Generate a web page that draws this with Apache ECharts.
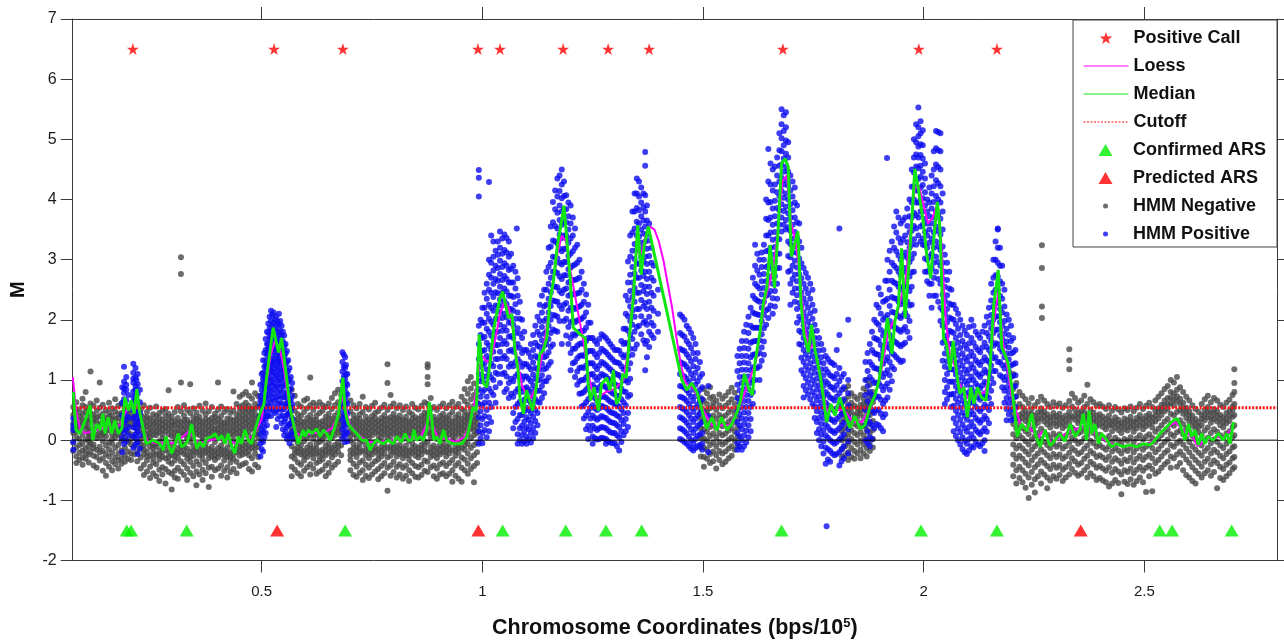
<!DOCTYPE html>
<html><head><meta charset="utf-8">
<script src="https://cdn.jsdelivr.net/npm/echarts@6/dist/echarts.min.js"></script>
<style>html,body{margin:0;padding:0;background:#fff}#c{width:1284px;height:644px}</style>
</head><body><div id="c"></div>
<script>
// ---------- axis / reference values ----------
const xMin = 0.0717, xMax = 2.8007;
const xTicks = [0.5, 1, 1.5, 2, 2.5];
const yMin = -2, yMax = 7, yStep = 1;
const cutoff = 0.54;

// ---------- markers ----------
const positiveCallX = [0.208,0.528,0.684,0.990,1.040,1.183,1.285,1.378,1.681,1.989,2.166];
const positiveCallY = 6.5;
const confirmedArsX = [0.194,0.204,0.330,0.689,1.046,1.189,1.280,1.361,1.678,1.994,2.166,2.535,2.563,2.698];
const predictedArsX = [0.535,0.991,2.356];
const arsY = -1.5;

// ---------- median line [x, M] ----------
const medianLine = [[.073,.80],[.079,.17],[.088,.11],[.100,.33],[.111,.58],[.117,0],[.126,.27],[.134,.17],[.140,.44],[.145,.11],[.152,.38],[.160,.11],[.167,.33],[.175,.11],[.183,.19],[.190,.71],[.198,.49],[.204,.66],[.211,.44],[.217,.85],[.223,.49],[.232,.17],[.238,-.06],[.254,0],[.269,-.06],[.277,-.17],[.283,.06],[.288,-.06],[.296,-.22],[.303,-.08],[.311,.11],[.318,-.11],[.326,-.08],[.333,0],[.341,.27],[.345,.11],[.353,-.14],[.360,-.03],[.368,-.11],[.375,.03],[.387,.06],[.394,.11],[.402,0],[.409,.08],[.417,-.06],[.424,.11],[.432,-.11],[.439,-.22],[.447,.06],[.454,-.06],[.462,.17],[.470,0],[.477,-.06],[.485,.17],[.496,.44],[.505,.60],[.511,1.04],[.519,1.49],[.526,1.87],[.538,1.46],[.545,1.70],[.557,1.0],[.564,.55],[.572,.27],[.583,-.06],[.594,.17],[.598,.06],[.606,.17],[.613,.11],[.625,.19],[.632,.06],[.640,.17],[.647,.11],[.655,0],[.666,.22],[.674,.44],[.684,1.04],[.689,.49],[.696,.27],[.707,.17],[.715,.11],[.727,0],[.738,0],[.745,-.17],[.753,-.06],[.760,0],[.775,-.06],[.787,0],[.798,-.06],[.806,.06],[.817,-.03],[.825,.11],[.832,0],[.840,0],[.845,.17],[.851,0],[.859,.06],[.866,0],[.874,.17],[.880,.63],[.885,.38],[.890,0],[.897,.06],[.904,-.06],[.912,.17],[.919,0],[.931,-.06],[.942,-.06],[.953,-.06],[.965,.06],[.972,.27],[.979,.55],[.986,.49],[.993,1.76],[1.002,.95],[1.010,.88],[1.017,1.26],[1.025,1.81],[1.032,2.09],[1.040,2.36],[1.046,2.47],[1.054,2.20],[1.059,2.03],[1.067,2.09],[1.074,1.49],[1.081,1.16],[1.085,.71],[1.093,.44],[1.100,.83],[1.114,.49],[1.123,.93],[1.130,1.43],[1.138,1.49],[1.146,1.70],[1.153,2.31],[1.161,2.64],[1.170,3.24],[1.178,3.57],[1.185,3.90],[1.193,3.19],[1.199,2.69],[1.206,1.87],[1.221,1.76],[1.233,1.70],[1.240,.93],[1.245,.66],[1.253,.88],[1.263,.49],[1.270,.93],[1.282,1.04],[1.289,.83],[1.297,1.16],[1.304,.60],[1.312,.71],[1.318,1.10],[1.326,1.04],[1.333,1.70],[1.342,2.36],[1.352,3.57],[1.360,2.75],[1.367,3.24],[1.376,3.55],[1.452,1.0],[1.463,.83],[1.474,.95],[1.486,.80],[1.497,.52],[1.508,.19],[1.520,.38],[1.531,.16],[1.542,.38],[1.554,.17],[1.565,.27],[1.576,.44],[1.585,.65],[1.594,1.10],[1.604,.85],[1.612,.75],[1.618,1.3],[1.629,1.78],[1.637,2.28],[1.645,2.55],[1.652,3.24],[1.662,2.53],[1.671,3.6],[1.678,4.6],[1.686,4.68],[1.693,4.55],[1.700,3.05],[1.708,3.27],[1.715,3.47],[1.722,2.3],[1.729,1.75],[1.739,1.46],[1.746,1.92],[1.754,1.49],[1.765,1.10],[1.773,.71],[1.780,.30],[1.790,.60],[1.799,.41],[1.810,.71],[1.822,.44],[1.833,.20],[1.844,.40],[1.856,.19],[1.867,.25],[1.878,.55],[1.890,.75],[1.899,1.0],[1.909,1.54],[1.918,2.03],[1.928,1.43],[1.935,1.98],[1.943,2.25],[1.950,3.19],[1.958,2.03],[1.965,2.75],[1.973,3.63],[1.980,4.51],[1.988,4.18],[1.999,3.63],[2.007,3.08],[2.016,2.69],[2.023,3.35],[2.031,3.96],[2.037,3.52],[2.045,1.70],[2.052,1.59],[2.060,1.16],[2.067,1.65],[2.075,1.10],[2.082,.77],[2.091,.88],[2.099,.38],[2.107,.88],[2.114,.60],[2.122,.88],[2.131,.71],[2.141,.66],[2.150,1.16],[2.159,2.25],[2.169,2.83],[2.177,1.54],[2.184,1.43],[2.192,1.26],[2.200,.88],[2.205,.55],[2.212,.06],[2.222,.27],[2.234,.15],[2.245,.44],[2.253,.10],[2.264,-.11],[2.275,.17],[2.286,-.09],[2.298,0],[2.309,.10],[2.320,-.02],[2.332,.27],[2.343,.06],[2.354,.17],[2.362,.44],[2.369,0],[2.375,.49],[2.381,.11],[2.388,.27],[2.396,-.06],[2.403,.11],[2.415,0],[2.426,-.11],[2.437,-.06],[2.452,-.11],[2.468,-.08],[2.483,-.11],[2.498,-.06],[2.513,-.08],[2.524,0],[2.536,.11],[2.551,.22],[2.566,.33],[2.575,.36],[2.583,.22],[2.592,0],[2.600,.27],[2.607,.06],[2.615,.17],[2.622,-.08],[2.630,.11],[2.637,-.06],[2.645,.06],[2.656,0],[2.668,.11],[2.679,0],[2.687,.11],[2.694,-.06],[2.702,.30]];

// ---------- loess line [x, M] ----------
const loessLine = [[.072,1.05],[.08,.45],[.09,.15],[.10,.12],[.12,.15],[.14,.2],[.16,.22],[.18,.25],[.19,.45],[.20,.55],[.21,.55],[.22,.6],[.23,.2],[.24,0],[.26,-.05],[.28,-.05],[.30,-.05],[.32,.05],[.335,.15],[.35,0],[.36,-.05],[.38,0],[.40,.02],[.42,0],[.44,-.05],[.46,.05],[.48,.05],[.50,.35],[.51,.9],[.52,1.4],[.53,1.65],[.54,1.55],[.55,1.2],[.56,.7],[.57,.35],[.58,.1],[.60,.1],[.62,.12],[.64,.12],[.66,.2],[.67,.35],[.68,.75],[.69,.55],[.70,.25],[.72,.08],[.74,-.03],[.76,-.03],[.78,-.02],[.80,0],[.82,.03],[.84,.05],[.86,.05],[.87,.2],[.88,.4],[.89,.2],[.90,.02],[.92,.02],[.94,-.03],[.96,.05],[.97,.25],[.98,.5],[.99,1.1],[1.0,1.4],[1.01,1.3],[1.02,1.35],[1.03,1.7],[1.04,2.1],[1.05,2.3],[1.06,2.2],[1.07,1.8],[1.08,1.3],[1.09,.9],[1.10,.75],[1.11,.7],[1.12,.85],[1.13,1.2],[1.14,1.6],[1.15,2.1],[1.16,2.6],[1.17,3.1],[1.18,3.4],[1.19,3.3],[1.20,2.8],[1.21,2.4],[1.22,2.0],[1.23,1.6],[1.24,1.1],[1.25,.8],[1.26,.7],[1.28,.8],[1.30,.85],[1.32,1.0],[1.33,1.5],[1.34,2.3],[1.35,3.2],[1.36,3.1],[1.37,3.4],[1.38,3.55],[1.39,3.5],[1.40,3.3],[1.41,3.0],[1.42,2.6],[1.43,2.2],[1.44,1.7],[1.45,1.25],[1.46,.95],[1.48,.85],[1.50,.5],[1.52,.25],[1.54,.25],[1.56,.25],[1.58,.5],[1.60,.9],[1.62,1.3],[1.64,2.3],[1.66,2.9],[1.67,3.5],[1.68,4.3],[1.69,4.4],[1.70,3.6],[1.71,3.3],[1.72,2.7],[1.73,1.9],[1.74,1.5],[1.75,1.6],[1.76,1.3],[1.77,.9],[1.78,.5],[1.80,.5],[1.82,.5],[1.84,.3],[1.86,.3],[1.88,.55],[1.90,1.0],[1.92,1.8],[1.94,2.1],[1.96,2.7],[1.97,3.5],[1.98,4.2],[1.99,4.2],[2.00,3.9],[2.01,3.6],[2.02,3.7],[2.03,3.9],[2.04,3.3],[2.05,2.0],[2.06,1.4],[2.07,1.25],[2.08,.95],[2.10,.7],[2.12,.75],[2.14,.8],[2.15,1.2],[2.16,2.0],[2.17,2.5],[2.18,1.6],[2.19,1.2],[2.20,.7],[2.22,.25],[2.24,.2],[2.26,.05],[2.27,.15],[2.29,-.05],[2.31,.05],[2.33,.15],[2.35,.2],[2.37,.25],[2.39,.1],[2.41,0],[2.43,-.08],[2.45,-.1],[2.47,-.1],[2.49,-.08],[2.51,-.06],[2.53,.05],[2.55,.2],[2.57,.3],[2.59,.15],[2.61,.05],[2.62,-.1],[2.64,0],[2.66,.05],[2.68,.05],[2.70,.2]];

// ---------- HMM negative probes: columns [x, M, M, ...] ----------
const hmmNegative = [
[.073,.42,.28,.12,-.04,-.18,.55,.2],[.080,.63,.36,.22,.05,-.12,-.27,.47,.14,-.38],[.087,.51,.31,.17,-.08,-.21,-.33,.4,.02,.25],[.094,.58,.44,.26,.09,-.06,-.17,-.29,.35,.69,-.41],[.101,.8,.47,.33,.18,.01,-.14,-.31,.24,.55,-.22],[.108,.52,.39,.21,.07,-.1,-.24,-.37,.3,.12,-.02],[.112,1.14,.61,.45,.16,-.05,-.19,.33,.04],[.119,.57,.42,.29,.11,-.07,-.26,-.42,.19,.36,-.13],[.126,.66,.49,.31,.2,.03,-.16,-.28,.38,.09,-.46],[.133,.96,.54,.4,.23,.06,-.11,-.34,.27,.15,-.2],[.140,.59,.44,.28,.13,-.02,-.18,-.3,-.51,.35,.08],[.147,.5,.37,.22,.06,-.09,-.23,-.59,.31,.14,-.38],[.154,.62,.46,.3,.17,-.04,-.15,-.27,-.44,.24,.39],[.161,.53,.41,.26,.1,-.06,-.21,-.35,.34,.02,-.5],[.168,.68,.48,.35,.19,.05,-.13,-.29,.28,-.4,.12],[.175,.57,.43,.24,.08,-.08,-.22,-.33,.37,.15,-.47],[.182,.61,.45,.32,.16,-.01,-.17,-.3,.23,-.39,.07],[.190,.52,.36,.2,.04,-.12,-.26,.29,-.36],[.197,.48,.33,.14,-.03,-.19,.25,-.31],[.204,.44,.27,.1,-.07,-.22,.36,-.33,.02],[.211,.4,.22,.05,-.11,-.24,.31],[.218,.46,.3,.13,-.04,-.2,-.35,.21],
[.226,.51,.33,.16,.02,-.14,-.29,-.47,.24,-.06,.42],[.233,.58,.38,.21,.07,-.09,-.23,-.41,-.58,.29,.13,-.16],[.240,.47,.3,.11,-.04,-.19,-.34,-.52,.22,.38,-.27,.03],[.247,.54,.36,.19,.05,-.11,-.26,-.44,-.63,.27,-.02,.12],[.254,.43,.26,.09,-.07,-.21,-.37,-.55,.17,.33,-.14,-.3],[.261,.56,.4,.23,.08,-.06,-.24,-.4,-.6,.31,.15,-.1],[.268,.45,.29,.13,-.02,-.17,-.32,-.49,-.68,.21,.37,-.25],[.275,.49,.34,.18,.03,-.12,-.28,-.45,-.57,.26,.1,-.2],[.282,.52,.31,.15,-.01,-.16,-.3,-.48,-.72,.23,.41,-.08],[.289,.83,.44,.27,.1,-.05,-.2,-.36,-.53,.19,.35,-.28],[.296,.39,.24,.07,-.09,-.25,-.39,-.56,-.82,.16,.31,-.17],[.303,.47,.32,.14,-.03,-.18,-.34,-.51,.24,.06,-.26,-.62],[.310,.55,.37,.2,.04,-.13,-.29,-.46,-.64,.28,.12,-.21],[.317,3.04,2.76,.96,.48,.3,.12,-.04,-.2,-.35,-.52,.22,-.11],[.324,.58,.41,.25,.09,-.07,-.23,-.4,-.58,.33,.17,-.15],[.331,.5,.34,.18,.02,-.14,-.31,-.47,.27,.1,-.24,-.66],[.338,.93,.45,.29,.13,-.03,-.19,-.36,-.54,.21,.05,-.28],[.345,.53,.38,.22,.06,-.1,-.26,-.43,-.6,.3,.14,-.18],[.352,.46,.28,.11,-.05,-.2,-.35,-.52,-.75,.19,.36,-.12],[.359,.57,.39,.24,.08,-.08,-.25,-.41,-.57,.32,.16,-.17],[.366,.49,.31,.15,0,-.16,-.32,-.49,.23,.07,-.24,-.66],[.373,.61,.43,.27,.1,-.06,-.21,-.38,-.55,.35,.18,-.13],[.380,.48,.33,.17,.01,-.15,-.3,-.46,-.78,.25,.09,-.22],[.387,.55,.37,.21,.05,-.11,-.27,-.44,-.61,.29,.13,-.19],[.394,.44,.3,.12,-.03,-.18,-.33,-.5,.2,.38,-.26,.04],[.401,.96,.5,.35,.19,.03,-.13,-.29,-.47,.27,.11,-.21],[.408,.56,.4,.23,.07,-.09,-.24,-.42,-.59,.31,.15,-.16],[.415,.47,.29,.14,-.02,-.17,-.34,-.51,.22,.06,-.25],[.422,.52,.36,.2,.04,-.12,-.28,-.45,-.62,.28,.12,-.2],[.429,.45,.27,.1,-.06,-.21,-.37,-.53,.18,.35,-.29],[.436,.81,.49,.33,.16,0,-.15,-.31,-.48,.25,.08,-.23],[.443,.6,.42,.26,.11,-.05,-.2,-.36,-.55,.34,.18,-.12],[.450,.72,.55,.38,.22,.06,-.1,-.26,-.43,.3,.14,-.18,.47],[.457,.76,.58,.41,.25,.09,-.08,-.24,-.4,.33,.17,-.16,.5],[.464,.8,.62,.45,.28,.12,-.04,-.21,-.38,.36,.2,-.13,.53],[.471,.74,.57,.4,.24,.07,-.09,-.25,-.48,.32,.15,-.17,.49],[.478,.96,.69,.52,.35,.19,.03,-.13,-.3,-.52,.44,.27,-.06],[.485,.78,.6,.43,.27,.1,-.06,-.22,-.41,.35,.18,-.14,.52],[.492,.73,.56,.39,.22,.05,-.11,-.28,-.45,.3,.13],
[.568,.84,.55,.38,.21,.06,-.1,-.27,-.44,-.6,.3,.13],[.575,.74,.49,.33,.17,.01,-.15,-.31,-.49,.26,.09,-.22],[.582,.6,.43,.27,.11,-.05,-.21,-.37,-.55,.35,.18,-.13],[.589,.56,.4,.24,.08,-.08,-.24,-.41,-.6,.31,.15,-.16],[.596,.66,.47,.3,.14,-.02,-.18,-.34,-.51,.22,.06,-.26],[.603,.53,.37,.2,.04,-.12,-.28,-.45,.29,.12,-.2,.69],[.610,1.04,.58,.42,.25,.09,-.07,-.23,-.4,-.57,.33,.17,-.15],[.617,.5,.34,.18,.02,-.14,-.3,-.47,.26,.1,-.22,.62],[.624,.57,.41,.26,.1,-.06,-.22,-.38,-.56,.33,.18,-.14],[.631,.63,.45,.29,.13,-.03,-.19,-.35,-.52,.21,.05,-.27],[.638,.49,.32,.16,0,-.16,-.32,-.49,.24,.08,-.24,.58],[.645,.55,.39,.23,.07,-.09,-.25,-.42,-.6,.31,.15,-.17],[.652,.61,.44,.27,.11,-.05,-.21,-.38,-.54,.36,.19,-.13],[.659,.7,.52,.35,.19,.03,-.13,-.29,-.46,.27,.11,-.21],[.666,.78,.58,.41,.24,.08,-.08,-.24,-.41,.32,.16,-.16],[.673,.84,.63,.46,.29,.13,-.03,-.19,-.36,.37,.21,-.11],[.680,.75,.57,.4,.23,.07,-.09,-.25,.31,.15],[.701,.66,.48,.31,.15,-.01,-.17,-.33,-.5,.23,.07,-.25],[.708,.58,.42,.26,.1,-.06,-.22,-.39,-.58,.34,.18,-.14],[.715,.53,.36,.2,.04,-.12,-.28,-.44,-.61,.28,.12,-.2],[.722,.6,.43,.27,.11,-.05,-.21,-.37,-.54,.35,.19,-.13],[.729,.72,.47,.3,.14,-.02,-.18,-.34,-.5,-.66,.22,.06],[.736,.55,.39,.23,.07,-.09,-.25,-.41,-.59,.31,.15,-.17],[.743,.51,.34,.18,.02,-.14,-.3,-.46,-.63,.26,.1,-.22],[.750,.57,.4,.24,.08,-.08,-.24,-.4,-.57,.32,.16,-.16],[.757,.62,.45,.29,.13,-.03,-.19,-.35,-.52,.37,.21,-.11],[.764,.48,.32,.16,0,-.16,-.32,-.48,-.65,.24,.08,-.24],[.771,.54,.37,.21,.05,-.11,-.27,-.43,-.6,.29,.13,-.19],[.778,.59,.42,.26,.1,-.06,-.22,-.38,-.55,.34,.18,-.14],[.785,1.26,.95,.5,.35,.19,.03,-.13,-.29,-.46,-.84,.27,.11],[.792,.75,.56,.38,.22,.06,-.1,-.26,-.42,-.59,.3,.14,-.18],[.799,.61,.44,.28,.12,-.04,-.2,-.36,-.53,.36,.2,-.12],[.806,.53,.37,.21,.05,-.11,-.27,-.44,-.62,.29,.13,-.19],[.813,.58,.41,.25,.09,-.07,-.23,-.4,-.57,.33,.17,-.15],[.820,.5,.34,.18,.02,-.14,-.3,-.46,-.64,.26,.1,-.22],[.827,.56,.39,.23,.07,-.09,-.25,-.42,-.59,.31,.15,-.17],[.834,.47,.31,.15,-.01,-.17,-.33,-.5,.23,.07,-.25,-.68],[.841,.6,.43,.27,.11,-.05,-.21,-.38,-.55,.35,.19,-.13],[.848,.54,.38,.22,.06,-.1,-.26,-.43,-.61,.3,.14,-.18],[.855,.51,.35,.19,.03,-.13,-.29,-.45,-.62,.27,.11,-.21],[.862,.57,.4,.24,.08,-.08,-.24,-.41,-.58,.32,.16,-.16],[.869,.63,.46,.3,.14,-.02,-.18,-.34,-.51,.38,.22,-.1],[.876,1.26,1.21,1.05,.93,.6,.44,.28,.12,-.04,-.2,-.36,-.53,.36],[.883,.7,.52,.36,.2,.04,-.12,-.28,-.45,.28,.12,-.2],[.890,.55,.39,.23,.07,-.09,-.25,-.42,-.6,.31,.15,-.17],[.897,.5,.34,.18,.02,-.14,-.3,-.47,-.64,.26,.1,-.22],[.904,.56,.4,.24,.08,-.08,-.24,-.4,-.57,.32,.16,-.16],[.911,.61,.44,.28,.12,-.04,-.2,-.37,-.55,.36,.2,-.12],[.918,.53,.37,.21,.05,-.11,-.27,-.43,-.6,.29,.13,-.19],[.925,.58,.42,.26,.1,-.06,-.22,-.38,-.56,.34,.18,-.14],[.932,.64,.47,.31,.15,-.01,-.17,-.33,-.5,-.69,.23,.07],[.939,.55,.38,.22,.06,-.1,-.26,-.42,-.59,.3,.14,-.18],[.946,.6,.43,.27,.11,-.05,-.21,-.38,-.64,.35,.19,-.13],[.953,.72,.52,.35,.19,.03,-.13,-.29,-.46,-.69,.27,.11],[.960,.85,.65,.48,.32,.16,0,-.16,-.32,-.5,.4,.24,-.08],[.967,.98,.77,.59,.42,.26,.1,-.06,-.22,-.39,-.56,.34,.18],[.974,1.05,.86,.68,.51,.35,.19,.03,-.13,-.3,-.48,.43,.27],[.981,.94,.75,.57,.4,.24,.08,-.08,-.25,-.43,-.7,.32,.16],[.988,.82,.63,.45,.28,.12,-.04,-.2,-.38,.36,.2],
[1.495,.7,.52,.36,.2,.04,-.12,-.27,.6],[1.502,.85,.66,.49,.33,.18,.03,-.12,-.28,-.44],[1.509,.78,.6,.44,.29,.14,-.01,-.16,-.31,.5],[1.516,.88,.7,.53,.37,.22,.07,-.08,-.23,-.38],[1.523,.72,.56,.41,.26,.11,-.04,-.19,-.35,.62],[1.530,.66,.5,.35,.2,.05,-.1,-.25,-.47],[1.537,.76,.58,.42,.27,.12,-.03,-.18,-.33],[1.544,.69,.53,.38,.23,.08,-.07,-.22,-.4],[1.551,.74,.57,.41,.26,.11,-.04,-.19,-.36],[1.558,.8,.62,.46,.31,.16,.01,-.14,-.3],[1.565,.87,.68,.51,.35,.2,.05,-.1,-.26],[1.572,.79,.6,.44,.29,.14,-.01,-.16],[1.579,.7,.52,.36,.21,.06,-.09],
[1.815,.62,.45,.3,.15,0,-.15,-.28,.52],[1.822,.85,.66,.5,.35,.2,.05,-.1,-.25,.42],[1.829,.9,.72,.56,.4,.25,.1,-.05,-.2,-.33,.48],[1.836,.78,.62,.47,.32,.17,.02,-.13,-.28,.55],[1.843,.72,.57,.42,.27,.12,-.03,-.18,-.31,.36],[1.850,.68,.53,.38,.23,.08,-.07,-.22,.45],[1.857,.75,.59,.44,.29,.14,-.01,-.16,-.3,.5],[1.864,.86,.69,.53,.38,.23,.08,-.07,-.22,.6],[1.871,1.0,.8,.63,.47,.32,.17,.02,-.13,-.27,.55],[1.878,.92,.74,.58,.42,.27,.12,-.03,-.18,.66],[1.885,.8,.63,.47,.32,.17,.02,-.12],
[2.203,1.1,.85,.62,.44,.27,.1,-.07,-.24,-.41,-.6],[2.210,.95,.73,.54,.37,.2,.03,-.14,-.31,-.5,-.72],[2.217,.8,.6,.42,.25,.08,-.09,-.26,-.44,-.63,.33],[2.224,.74,.55,.37,.2,.03,-.14,-.31,-.5,-.7,.45],[2.231,.68,.49,.32,.15,-.02,-.19,-.37,-.56,-.79,.4],[2.238,.61,.44,.27,.1,-.07,-.24,-.42,-.62,-.96,.35],[2.245,.7,.52,.35,.18,.01,-.16,-.34,-.53,-.74,.43],[2.252,.58,.41,.24,.07,-.1,-.27,-.45,-.65,-.87,.33],[2.259,.64,.46,.29,.12,-.05,-.22,-.4,-.6,.37],[2.266,.72,.53,.36,.19,.02,-.15,-.33,-.52,-.72,.45],[2.268,3.24,2.86,2.22,2.03],[2.273,.66,.48,.31,.14,-.03,-.2,-.38,-.57,.4],[2.280,.6,.43,.26,.09,-.08,-.25,-.43,-.62,-.8,.35],[2.287,.55,.38,.21,.04,-.13,-.3,-.48,-.67,.3],[2.294,.63,.45,.28,.11,-.06,-.23,-.41,-.6,.38],[2.301,.57,.4,.23,.06,-.11,-.28,-.46,-.64,.32],[2.308,.61,.44,.27,.1,-.07,-.24,-.42,-.58,.36],[2.315,.54,.37,.2,.03,-.14,-.31,-.49,-.68,.29],[2.322,.58,.41,.24,.07,-.1,-.27,-.45,-.62,.33],[2.330,1.51,1.33,1.18,.65,.47,.3,.13,-.04,-.21,-.39,-.57,.39],[2.336,.77,.56,.38,.21,.04,-.13,-.3,-.48],[2.343,.7,.51,.34,.17,0,-.17,-.35,-.54,.42],[2.350,.62,.45,.28,.11,-.06,-.23,-.41,-.59,.37],[2.357,.66,.48,.31,.14,-.03,-.2,-.38,-.56,.4],[2.364,.74,.55,.37,.2,.03,-.14,-.31,-.5,.46],[2.371,.92,.6,.42,.25,.08,-.09,-.26,-.44,-.62,.34],[2.378,.68,.5,.33,.16,-.01,-.18,-.36,-.55,.41],[2.385,.63,.46,.29,.12,-.05,-.22,-.4,-.6,.37],[2.392,.57,.4,.23,.06,-.11,-.28,-.46,-.66,.32],[2.399,.6,.43,.26,.09,-.08,-.25,-.43,-.63,.35],[2.406,.56,.39,.22,.05,-.12,-.29,-.47,-.67,.3],[2.413,.52,.35,.18,.01,-.16,-.33,-.51,-.7,.27],[2.420,.58,.41,.24,.07,-.1,-.27,-.45,-.77,.33],[2.427,.49,.32,.15,-.02,-.19,-.36,-.54,-.72,.25],[2.434,.55,.38,.21,.04,-.13,-.3,-.48,-.66,.3],[2.441,.51,.34,.17,0,-.17,-.34,-.52,-.71,.26],[2.448,.46,.29,.12,-.05,-.22,-.39,-.57,-.9,.22],[2.455,.53,.36,.19,.02,-.15,-.32,-.5,-.69,.28],[2.462,.5,.33,.16,-.01,-.18,-.35,-.53,-.73,.25],[2.469,.56,.39,.22,.05,-.12,-.29,-.47,-.65,.31],[2.476,.48,.31,.14,-.03,-.2,-.37,-.55,-.74,.23],[2.483,.54,.37,.2,.03,-.14,-.31,-.49,-.68,.29],[2.490,.6,.42,.25,.08,-.09,-.26,-.44,-.62,.34],[2.497,.52,.35,.18,.01,-.16,-.33,-.51,-.7,.27],[2.504,.57,.4,.23,.06,-.11,-.28,-.46,-.86,.32],[2.511,.62,.44,.27,.1,-.07,-.24,-.42,-.6,.36],[2.518,.55,.38,.21,.04,-.13,-.3,-.48,-.85,.3],[2.525,.66,.48,.31,.14,-.03,-.2,-.38,-.56,.4],[2.532,.72,.53,.36,.19,.02,-.15,-.33,-.52,.46],[2.539,.78,.59,.42,.25,.08,-.09,-.27,-.46,.5],[2.546,.85,.66,.48,.31,.14,-.03,-.21,-.4,.57],[2.553,.9,.7,.52,.35,.18,.01,-.17,-.36,.6],[2.560,1.0,.8,.61,.44,.27,.1,-.08,-.27,-.46,.7],[2.567,.96,.77,.58,.41,.24,.07,-.11,-.3,.67],[2.574,1.05,.84,.65,.47,.3,.13,-.05,-.24,-.44,.73],[2.581,.88,.69,.5,.33,.16,-.01,-.19,-.38,.6],[2.588,.8,.62,.44,.27,.1,-.07,-.25,-.5,.53],[2.595,.72,.54,.37,.2,.03,-.14,-.32,-.58,.46],[2.602,.66,.48,.31,.14,-.03,-.2,-.38,-.62,.4],[2.609,.58,.41,.24,.07,-.1,-.27,-.45,-.68,.33],[2.616,.52,.35,.18,.01,-.16,-.33,-.51,-.72,.27],[2.623,.47,.3,.13,-.04,-.21,-.38,-.56,.22],[2.630,.6,.42,.25,.08,-.09,-.26,-.44,-.62,.35],[2.637,.68,.5,.33,.16,-.01,-.18,-.36,-.55,.42],[2.644,.74,.55,.38,.21,.04,-.13,-.31,-.5,.47],[2.651,.63,.46,.29,.12,-.05,-.22,-.4,-.59,.37],[2.658,.7,.52,.35,.18,.01,-.16,-.34,-.53,.44],[2.665,.66,.48,.31,.14,-.03,-.2,-.38,-.8,.4],[2.672,.59,.42,.25,.08,-.09,-.26,-.44,-.63,.34],[2.679,.55,.38,.21,.04,-.13,-.3,-.48,-.66,.3],[2.686,.62,.45,.28,.11,-.06,-.23,-.41,-.6,.36],[2.693,.67,.49,.32,.15,-.02,-.19,-.37,-.55,.41],[2.700,.75,.56,.39,.22,.05,-.12,-.3,-.48,.5],[2.704,1.18,.95,.8,.6,.42,.25,.08,-.1,-.28,-.45]
];

// ---------- HMM positive probes: columns [x, M, M, ...] ----------
const hmmPositive = [
[.073,.36,.17,-.03,-.16,.25],
[.184,.88,.62,.41,.2,.03,-.2],[.188,1.22,.97,.79,.58,.44,.29,.12,-.06,.68,.86],[.193,1.05,.84,.66,.5,.33,.17,-.01,.92,.4],[.198,.75,.55,.38,.22,.08],[.209,1.27,1.12,.96,.81,.64,.5,.36,.21,.06,-.13,1.02,.72],[.214,1.2,1.04,.9,.74,.57,.42,.27,.1,-.07,.66,.84],[.216,1.0,.82,.68,.52,.37,.2,.02],[.219,1.1,.93,.77,.6,.46,.3,.15,-.04,-.23,.53],[.224,.84,.63,.45,.26,.08,-.14,.35],
[.497,.92,.74,.57,.41,.26,.1,-.06,-.27,.65,.33],[.500,1.1,.84,.66,.5,.35,.18,0,-.15],[.503,1.33,1.12,.95,.78,.62,.47,.3,.14,-.03,-.19,1.02,.55],[.506,1.45,1.22,1.05,.88,.71,.55,.39,.22,.05],[.509,1.68,1.5,1.32,1.15,.98,.83,.67,.5,.34,.12,1.24,.9],[.512,1.8,1.6,1.41,1.23,1.06,.9,.75,.58,.42,.25],[.515,1.94,1.78,1.6,1.44,1.27,1.1,.93,.76,.58,.4,1.52,1.19],[.518,2.05,1.87,1.7,1.52,1.35,1.18,1.02,.85,.67,.5],[.521,2.15,1.98,1.82,1.66,1.5,1.34,1.18,1.0,.82,.63,.4,1.73,1.27],[.524,2.08,1.9,1.74,1.58,1.42,1.26,1.1,.92,.72,.5],[.527,2.12,1.95,1.79,1.63,1.47,1.3,1.13,.95,.77,.56,1.7,1.55],[.530,2.0,1.84,1.67,1.51,1.35,1.19,1.03,.86,.66,.45],[.533,2.05,1.89,1.72,1.56,1.4,1.24,1.07,.89,.7,.48,.22,1.62],[.536,1.97,1.8,1.64,1.48,1.32,1.16,.99,.8,.6,.35],[.539,2.1,1.92,1.75,1.58,1.42,1.26,1.09,.92,.73,.52,1.5,1.33],[.542,1.98,1.82,1.66,1.49,1.33,1.17,1.0,.82,.62,.4],[.545,1.9,1.73,1.57,1.41,1.25,1.08,.9,.71,.5,.28,1.47],[.548,1.8,1.64,1.48,1.32,1.16,.99,.8,.6,.4,.18],[.551,1.74,1.56,1.39,1.23,1.06,.89,.71,.52,.31,.08,1.15],[.554,1.6,1.44,1.27,1.1,.93,.75,.56,.36,.15],[.557,1.48,1.3,1.13,.96,.79,.61,.42,.22,.02,1.05,.7],[.560,1.33,1.15,.98,.8,.62,.44,.25,.06],[.563,1.2,1.01,.83,.65,.46,.27,.08,-.05,.55],[.566,1.05,.86,.68,.48,.28,.1],[.569,.95,.74,.54,.35,.15,.02,.6],
[.683,1.46,1.3,1.14,.98,.82,.66,.5,.34,.18,.02],[.686,1.42,1.22,1.06,.9,.74,.58,.42,.26,.1],[.689,1.38,1.2,1.03,.87,.71,.55,.39,.23,.07,-.03],[.691,1.25,1.1,.95,.79,.63,.47,.31,.15],[.694,1.1,.92,.76,.6,.44,.28,.12,-.02],
[.992,4.49,4.36,4.05,1.9,1.6,1.35,1.1,.85,.6,.38,.15,-.06],[.996,2.0,1.75,1.48,1.22,.98,.72,.48,.25,.03],[1.000,2.2,1.95,1.7,1.48,1.25,1.02,.8,.58,.35,.12,-.05],[1.005,2.45,2.2,1.95,1.72,1.5,1.28,1.06,.84,.62,.4,.17],[1.010,2.6,2.35,2.1,1.85,1.62,1.4,1.18,.95,.72,.5,.27,.05],[1.015,4.29,3.0,2.75,2.5,2.25,2.02,1.8,1.57,1.34,1.1,.86,.62,.38,.15],[1.020,3.4,2.95,2.7,2.45,2.2,1.97,1.74,1.5,1.27,1.04,.8,.55,.3],[1.025,3.3,3.05,2.82,2.6,2.38,2.15,1.92,1.7,1.47,1.23,1.0,.75],[1.030,3.15,2.9,2.68,2.46,2.24,2.02,1.8,1.58,1.35,1.12,.88,.62],[1.035,3.3,3.08,2.86,2.65,2.44,2.23,2.02,1.8,1.58,1.35,1.1],[1.040,3.47,3.2,2.98,2.76,2.55,2.34,2.13,1.92,1.7,1.47,1.22,.95],[1.045,3.35,3.1,2.88,2.66,2.45,2.24,2.03,1.82,1.6,1.36,1.1],[1.050,3.42,3.16,2.94,2.73,2.52,2.31,2.1,1.88,1.65,1.4,1.12,.8],[1.055,3.36,3.12,2.9,2.68,2.47,2.26,2.04,1.82,1.6,1.35,1.06,.85],[1.060,3.3,3.05,2.83,2.62,2.4,2.18,1.95,1.72,1.48,1.22,.95,.7],[1.065,3.1,2.85,2.62,2.4,2.18,1.96,1.73,1.5,1.27,1.02,.77],[1.070,2.9,2.62,2.38,2.15,1.92,1.7,1.47,1.23,.98,.72,.45,.2],[1.075,2.8,2.52,2.26,2.02,1.78,1.54,1.3,1.06,.8,.55,.3],[1.078,3.52],[1.080,2.69,2.4,2.12,1.86,1.6,1.35,1.1,.85,.6,.35,.1,-.06],[1.085,2.3,2.02,1.77,1.53,1.3,1.08,.86,.64,.42,.2,0],[1.090,2.0,1.7,1.45,1.22,1.0,.8,.6,.42,.24,.08,-.06],[1.095,1.8,1.5,1.27,1.06,.86,.67,.48,.31,.15,-.02],[1.100,1.5,1.26,1.06,.88,.7,.54,.38,.22,.06,-.06],[1.105,1.45,1.22,1.02,.84,.66,.5,.34,.18,.02],[1.110,1.6,1.38,1.18,.98,.8,.62,.45,.28,.12,-.04],[1.115,1.75,1.5,1.29,1.09,.91,.73,.56,.39,.2,.03],[1.120,1.9,1.62,1.4,1.2,1.02,.85,.68,.5,.32,.12],[1.125,2.05,1.8,1.57,1.37,1.18,1.0,.82,.64,.45,.25],[1.130,2.25,1.98,1.75,1.55,1.36,1.18,1.0,.82,.62],[1.135,2.4,2.12,1.88,1.66,1.46,1.27,1.08,.9,.7],[1.140,2.5,2.22,1.98,1.77,1.57,1.38,1.18,.98,.78],[1.145,2.8,2.5,2.25,2.02,1.8,1.6,1.4,1.2,.98],[1.150,3.2,2.88,2.6,2.35,2.12,1.9,1.68,1.46,1.25,1.04],[1.155,3.55,3.22,2.95,2.7,2.46,2.23,2.0,1.78,1.55,1.3],[1.160,3.96,3.62,3.32,3.05,2.8,2.56,2.32,2.08,1.84,1.59],[1.165,4.15,3.84,3.56,3.3,3.04,2.8,2.55,2.31,2.07,1.82],[1.170,4.35,4.05,3.78,3.52,3.27,3.02,2.78,2.54,2.3,2.05,1.8],[1.175,4.4,4.14,3.9,3.66,3.42,3.18,2.95,2.72,2.48,2.24,1.98],[1.180,4.5,4.25,4.02,3.8,3.58,3.36,3.14,2.92,2.68,2.44,2.18,1.6],[1.185,4.3,4.06,3.84,3.62,3.4,3.18,2.96,2.74,2.5,2.25,1.98],[1.190,4.07,3.84,3.62,3.4,3.18,2.96,2.74,2.52,2.28,2.02,1.74],[1.195,3.95,3.72,3.5,3.28,3.06,2.84,2.62,2.4,2.15,1.88,1.6],[1.200,3.9,3.6,3.35,3.1,2.87,2.64,2.42,2.2,1.96,1.7,1.45,1.16],[1.205,3.7,3.4,3.14,2.9,2.66,2.43,2.2,1.98,1.76,1.52,1.28],[1.210,3.52,3.2,2.92,2.66,2.42,2.18,1.96,1.74,1.52,1.3,1.05],[1.215,3.25,2.95,2.68,2.44,2.21,1.99,1.78,1.57,1.36,1.14,.92],[1.220,3.0,2.7,2.45,2.22,2.0,1.8,1.6,1.4,1.2,.98,.77],[1.225,2.8,2.5,2.25,2.02,1.81,1.61,1.41,1.21,1.0,.78,.56],[1.230,2.6,2.3,2.05,1.82,1.6,1.4,1.2,1.0,.8,.58,.36],[1.235,2.42,2.12,1.87,1.65,1.44,1.24,1.04,.84,.63,.41,.18],[1.240,2.25,1.95,1.7,1.48,1.28,1.08,.88,.68,.47,.24,.02],[1.245,1.95,1.7,1.48,1.28,1.09,.9,.72,.54,.36,.16],[1.250,1.7,1.48,1.28,1.1,.92,.75,.58,.41,.24,.06,-.06],[1.255,1.65,1.43,1.23,1.05,.87,.7,.53,.37,.2,.03],[1.260,1.6,1.38,1.18,1.0,.83,.66,.5,.34,.17,.01],[1.265,1.68,1.45,1.24,1.05,.88,.7,.53,.37,.2,.02],[1.270,1.76,1.52,1.3,1.1,.92,.74,.57,.4,.22,.04],[1.275,1.73,1.49,1.28,1.08,.9,.72,.55,.38,.21,.03],[1.280,1.7,1.46,1.25,1.06,.88,.71,.54,.37,.2,.02,-.06],[1.285,1.65,1.42,1.21,1.02,.84,.67,.5,.33,.16,-.02],[1.290,1.6,1.38,1.18,.99,.81,.64,.47,.3,.13,-.04],[1.295,1.55,1.34,1.14,.96,.78,.62,.45,.29,.12,-.05],[1.300,1.5,1.3,1.11,.93,.76,.6,.44,.28,.12,-.05],[1.305,1.5,1.29,1.09,.91,.74,.58,.41,.25,.08,-.1],[1.310,1.49,1.28,1.08,.9,.73,.56,.39,.22,.05,-.17],[1.315,1.65,1.43,1.23,1.04,.86,.68,.51,.33,.15,-.03],[1.320,1.85,1.6,1.38,1.18,.99,.81,.63,.45,.27,.08],[1.325,2.4,2.1,1.85,1.62,1.41,1.2,1.0,.8,.58,.35,.15],[1.330,2.97,2.62,2.32,2.06,1.82,1.6,1.39,1.18,.96,.72,.45,.22],[1.335,3.4,3.05,2.75,2.48,2.22,1.98,1.75,1.52,1.28,1.02,.75],[1.340,3.8,3.45,3.15,2.88,2.62,2.38,2.15,1.92,1.68,1.42],[1.345,4.1,3.8,3.52,3.26,3.01,2.77,2.53,2.3,2.05,1.8,1.52],[1.350,4.35,4.1,3.86,3.63,3.4,3.17,2.94,2.7,2.45,2.18,1.88,1.59],[1.355,4.3,4.05,3.82,3.6,3.38,3.16,2.93,2.7,2.45,2.18,1.9],[1.360,4.2,3.95,3.72,3.5,3.28,3.05,2.82,2.58,2.33,2.06,1.76],[1.365,4.1,3.87,3.65,3.43,3.2,2.97,2.73,2.48,2.22,1.95,1.66],[1.369,4.79,4.56,4.07,3.8,3.55,3.3,3.05,2.8,2.55,2.28,1.98,1.6,1.16],[1.373,3.9,3.65,3.42,3.18,2.93,2.68,2.43,2.18,1.92,1.65,1.38],[1.378,3.6,3.32,3.06,2.8,2.55,2.3,2.05,1.8,1.55],[1.383,3.2,2.95,2.7,2.45,2.2,1.95,1.75],[1.388,2.9,2.65,2.4,2.15,1.9,1.7],[1.398,2.5,2.1,1.8],
[1.448,2.09,1.78,1.52,1.3,1.1,.9,.72,.55,.38,.2,.02],[1.453,2.05,1.75,1.5,1.28,1.08,.89,.71,.53,.36,.18,0],[1.458,2.0,1.72,1.48,1.26,1.06,.87,.69,.51,.33,.15,-.03],[1.463,1.9,1.65,1.43,1.22,1.02,.83,.65,.47,.29,.11,-.06],[1.468,1.85,1.6,1.38,1.17,.97,.78,.6,.42,.24,.06,-.1],[1.473,1.78,1.53,1.31,1.1,.91,.72,.54,.36,.18,0,-.14],[1.478,1.7,1.45,1.23,1.03,.84,.65,.47,.3,.12,-.05,-.17],[1.483,1.6,1.35,1.12,.92,.73,.54,.36,.19,.02,-.13],[1.488,1.45,1.2,.98,.78,.59,.41,.24,.07,-.1],[1.493,1.3,1.05,.84,.64,.45,.27,.1,-.08],[1.498,1.1,.88,.68,.49,.3,.12,-.06,-.16],[1.512,.9,.4,-.2],
[1.578,1.4,1.15,.92,.7,.5,.3,.12,-.05,-.16],[1.583,1.52,1.28,1.05,.83,.63,.43,.24,.06,-.1],[1.588,1.65,1.4,1.17,.95,.75,.55,.36,.18,0,-.16],[1.593,1.8,1.53,1.29,1.06,.85,.65,.46,.27,.08,-.1],[1.598,1.92,1.65,1.4,1.17,.95,.75,.55,.35,.16,-.04],[1.603,2.05,1.78,1.52,1.28,1.06,.85,.65,.45,.25,.05],[1.608,2.2,1.9,1.62,1.38,1.16,.95,.75,.55,.35,.15],[1.613,2.7,2.4,2.12,1.87,1.64,1.42,1.21,1.0,.8,.6],[1.618,3.25,2.9,2.6,2.35,2.1,1.87,1.65,1.43,1.2,1.0],[1.623,3.1,2.82,2.56,2.32,2.09,1.87,1.65,1.43,1.2],[1.628,3.0,2.75,2.52,2.3,2.08,1.87,1.66,1.45,1.23,1.0],[1.633,3.12,2.88,2.64,2.42,2.2,1.98,1.76,1.54,1.32],[1.638,3.25,3.0,2.76,2.53,2.3,2.08,1.86,1.64,1.42],[1.643,4.0,3.68,3.4,3.14,2.88,2.64,2.4,2.16,1.92],[1.648,4.84,4.3,3.95,3.66,3.4,3.15,2.9,2.66,2.42,2.18,2.03],[1.653,4.6,4.25,3.96,3.7,3.45,3.2,2.96,2.72,2.48,2.24],[1.658,4.5,4.15,3.85,3.58,3.33,3.08,2.84,2.6,2.36,2.1],[1.663,4.55,4.25,3.98,3.72,3.46,3.21,2.97,2.73,2.48,2.22],[1.668,4.7,4.4,4.12,3.86,3.6,3.35,3.1,2.86,2.6,2.35],[1.673,5.1,4.82,4.56,4.3,4.06,3.82,3.58,3.34,3.1,2.86],[1.678,5.5,5.25,5.02,4.8,4.58,4.36,4.14,3.92,3.7,3.47],[1.683,5.4,5.14,4.9,4.68,4.46,4.25,4.03,3.81,3.58],[1.688,5.45,5.2,4.98,4.76,4.54,4.32,4.1,3.88,3.66,3.5],[1.693,4.95,4.7,4.46,4.23,4.0,3.77,3.54,3.3,3.06,2.8],[1.698,4.4,4.15,3.92,3.7,3.48,3.26,3.04,2.82,2.6,2.25],[1.703,4.3,4.05,3.82,3.58,3.35,3.12,2.9,2.68,2.45],[1.708,4.2,3.95,3.7,3.46,3.22,2.98,2.75,2.52,2.3],[1.713,3.9,3.62,3.36,3.11,2.87,2.64,2.41,2.18,1.95],[1.718,3.6,3.3,3.02,2.76,2.52,2.28,2.05,1.82,1.6],[1.723,3.2,2.94,2.69,2.45,2.22,2.0,1.79,1.58,1.37,1.16],[1.728,2.86,2.6,2.36,2.13,1.91,1.7,1.5,1.3,1.1,.9,.71],[1.733,2.78,2.52,2.28,2.05,1.84,1.63,1.43,1.23,1.03,.83],[1.738,2.7,2.44,2.2,1.97,1.76,1.56,1.36,1.16,.96,.76],[1.743,2.6,2.35,2.11,1.89,1.68,1.48,1.28,1.08,.88,.68],[1.748,2.5,2.25,2.02,1.8,1.6,1.4,1.2,1.0,.8,.6],[1.753,2.15,1.92,1.7,1.5,1.31,1.12,.93,.74,.56,.37],[1.758,1.82,1.6,1.4,1.21,1.02,.84,.66,.48,.3,.12],[1.763,1.7,1.49,1.29,1.1,.91,.73,.55,.37,.18,0],[1.768,1.6,1.38,1.18,.99,.81,.63,.45,.27,.09,-.1],[1.773,1.5,1.28,1.08,.9,.72,.54,.36,.17,-.02,-.22],[1.778,1.4,1.18,.98,.8,.62,.44,.26,.08,-.12,-.39],[1.780,-1.43],[1.783,1.35,1.13,.94,.76,.58,.4,.22,.04,-.15,-.32],[1.788,1.3,1.08,.89,.71,.53,.35,.17,0,-.18,-.36],[1.793,1.28,1.06,.87,.69,.51,.33,.15,-.03,-.22],[1.798,1.25,1.03,.84,.66,.48,.3,.12,-.06,-.25],[1.803,1.5,1.1,.91,.72,.53,.35,.16,-.03,-.23],[1.809,3.52,1.75,1.2,.98,.78,.58,.39,.2,.01,-.2,-.42],[1.814,1.05,.84,.63,.43,.24,.05,-.15,-.35],[1.819,1.1,.88,.68,.48,.29,.1,-.1,-.3],[1.829,2.0,1.0,.78,.58,.38,.18,-.02,-.22],
[1.868,1.3,1.0,.75,.5,.25,0],[1.873,1.45,1.15,.9,.65,.4,.15,-.05],[1.878,1.6,1.3,1.05,.8,.55,.3,.05,-.1],[1.883,1.8,1.5,1.25,1.0,.75,.5,.25,.02],[1.888,2.0,1.7,1.45,1.2,.95,.7,.45,.2],[1.893,2.25,1.95,1.68,1.43,1.19,.96,.73,.5,.27],[1.898,2.53,2.2,1.92,1.66,1.42,1.18,.95,.72,.5,.25],[1.903,2.42,2.1,1.83,1.58,1.35,1.12,.9,.67,.44,.2],[1.908,2.3,2.0,1.74,1.5,1.27,1.05,.83,.6,.38,.15],[1.913,2.65,2.32,2.04,1.79,1.55,1.33,1.11,.89,.66,.43],[1.917,4.69],[1.918,3.0,2.65,2.35,2.08,1.83,1.6,1.38,1.16,.94,.71],[1.923,3.15,2.8,2.5,2.23,1.98,1.75,1.52,1.3,1.08,.84],[1.928,3.3,2.95,2.65,2.38,2.13,1.9,1.67,1.45,1.22,.98],[1.933,3.55,3.2,2.9,2.62,2.36,2.12,1.88,1.65,1.42,1.18],[1.938,3.8,3.45,3.14,2.86,2.6,2.35,2.1,1.86,1.62,1.38],[1.943,3.7,3.36,3.07,2.8,2.55,2.3,2.06,1.83,1.59,1.34],[1.948,3.6,3.28,3.0,2.74,2.5,2.26,2.03,1.8,1.56,1.3],[1.953,3.65,3.34,3.06,2.8,2.55,2.31,2.07,1.84,1.59,1.32],[1.958,3.7,3.4,3.12,2.86,2.6,2.36,2.12,1.88,1.62],[1.963,3.85,3.56,3.29,3.03,2.78,2.54,2.3,2.06,1.8],[1.968,4.0,3.72,3.46,3.2,2.96,2.72,2.48,2.24,1.98,1.7],[1.973,4.5,4.21,3.95,3.7,3.48,3.25,3.02,2.79,2.55,2.25],[1.978,5.0,4.7,4.45,4.22,4.0,3.78,3.56,3.34,3.1,2.8],[1.983,5.25,4.95,4.75,4.55,4.35,4.15,3.95,3.74,3.52,3.25],[1.988,5.53,5.2,5.05,4.88,4.7,4.52,4.34,4.15,3.95,3.7,3.4],[1.993,5.3,5.1,4.92,4.74,4.56,4.38,4.2,4.0,3.8,3.55,3.3],[1.998,5.15,4.9,4.68,4.46,4.24,4.02,3.8,3.58,3.35,3.25],[2.003,4.6,4.35,4.12,3.9,3.68,3.46,3.24,3.02,2.8],[2.008,4.0,3.8,3.6,3.4,3.2,3.0,2.8,2.64],[2.013,4.2,3.95,3.72,3.5,3.28,3.05,2.83,2.6,2.4],[2.018,4.4,4.1,3.85,3.6,3.35,3.1,2.86,2.6,2.2],[2.023,4.8,4.5,4.22,3.96,3.7,3.45,3.2,2.95,2.7,2.4],[2.028,5.14,4.85,4.58,4.32,4.06,3.8,3.55,3.3,3.05,2.8,2.4],[2.033,5.12,4.82,4.54,4.27,4.0,3.74,3.48,3.22,2.96,2.68,2.3],[2.038,5.1,4.8,4.5,4.22,3.95,3.68,3.42,3.16,2.9,2.6,2.2,1.98],[2.043,4.1,3.8,3.5,3.22,2.95,2.68,2.42,2.16,1.9,1.62,1.32],[2.048,3.08,2.8,2.55,2.32,2.1,1.88,1.66,1.44,1.22,1.0,.8,.6],[2.053,2.95,2.66,2.41,2.18,1.96,1.74,1.53,1.31,1.1,.88,.68],[2.058,2.8,2.52,2.27,2.04,1.82,1.6,1.39,1.18,.97,.76],[2.063,2.5,2.25,2.02,1.8,1.6,1.39,1.18,.97,.76,.55],[2.068,2.25,2.0,1.78,1.57,1.37,1.17,.97,.77,.57,.36,.15],[2.073,2.18,1.93,1.7,1.49,1.29,1.09,.89,.69,.49,.28,.07],[2.078,2.1,1.85,1.62,1.41,1.21,1.01,.82,.62,.42,.2,0],[2.083,2.0,1.75,1.53,1.32,1.12,.93,.74,.54,.34,.13,-.07],[2.088,1.9,1.65,1.44,1.24,1.04,.85,.66,.46,.26,.05,-.15],[2.093,1.82,1.58,1.37,1.17,.98,.79,.6,.4,.2,-.01,-.2],[2.098,1.75,1.52,1.31,1.11,.92,.73,.54,.34,.14,-.06,-.23],[2.103,1.88,1.61,1.39,1.18,.99,.8,.61,.42,.22,.02,-.17],[2.108,2.0,1.7,1.47,1.26,1.06,.87,.68,.49,.3,.1,-.1],[2.113,1.9,1.62,1.4,1.2,1.0,.81,.62,.43,.23,.03,-.12],[2.118,1.8,1.55,1.33,1.13,.94,.75,.56,.37,.17,-.03],[2.123,1.75,1.5,1.29,1.09,.9,.71,.52,.33,.13,-.07],[2.128,1.7,1.46,1.25,1.05,.86,.67,.48,.29,.1,-.1],[2.133,1.8,1.54,1.31,1.11,.91,.72,.53,.34,.15,-.05],[2.138,1.9,1.62,1.38,1.17,.97,.78,.59,.4,.2,0,-.18],[2.143,2.05,1.78,1.55,1.33,1.13,.94,.74,.55,.35,.14],[2.148,2.2,1.95,1.72,1.5,1.3,1.1,.9,.7,.5,.28],[2.153,2.6,2.32,2.08,1.86,1.65,1.44,1.24,1.03,.82,.6],[2.158,3.0,2.7,2.45,2.22,2.0,1.78,1.57,1.36,1.15,.95],[2.163,3.3,3.0,2.74,2.5,2.27,2.05,1.83,1.61,1.38,1.15],[2.168,3.52,3.5,3.2,2.95,2.72,2.5,2.28,2.06,1.84,1.6,1.3],[2.173,3.2,2.9,2.64,2.4,2.18,1.96,1.74,1.52,1.3,1.08],[2.178,2.9,2.6,2.35,2.12,1.9,1.68,1.47,1.25,1.05,.88],[2.183,2.5,2.22,1.98,1.77,1.57,1.38,1.19,1.0,.82,.62],[2.188,2.09,1.85,1.64,1.44,1.25,1.06,.88,.7,.52,.33],[2.193,2.0,1.75,1.54,1.34,1.15,.97,.79,.61,.43],[2.198,1.9,1.65,1.44,1.24,1.05,.87,.69,.51,.33],[2.203,1.7,1.46,1.26,1.07,.89,.71,.53,.36],[2.208,1.5,1.28,1.08,.9,.72,.55,.38]
];

// ---------- build ----------
function expandColumns(cols) {
  const out = [];
  cols.forEach(c => { for (let i = 1; i < c.length; i++) out.push([c[0], c[i]]); });
  return out;
}
const FONT = '"Liberation Sans", Arial, Helvetica, sans-serif';
const AX = '#3a3a3a';
const starPath = 'path://M50,0L61.8,35.1L98.9,35.1L69,56.8L80.3,91.9L50,70.2L19.7,91.9L31,56.8L1.1,35.1L38.2,35.1Z';
const triPath = 'path://M7,0L14,12L0,12Z';
const legendText = {fontFamily: FONT, fontSize: 18, fontWeight: 'bold', color: '#111', lineHeight: 18};
const hideSym = {opacity: 0};

const chart = echarts.init(document.getElementById('c'), null, {renderer: 'canvas'});
const xAxisBase = {type: 'value', min: xMin, max: xMax, splitLine: {show: false},
  axisLine: {show: true, onZero: false, lineStyle: {color: AX, width: 1}},
  axisTick: {show: true, length: 12, inside: false, customValues: xTicks, lineStyle: {color: AX}}};
const yAxisBase = {type: 'value', min: yMin, max: yMax, interval: yStep, splitLine: {show: false},
  axisLine: {show: true, onZero: false, lineStyle: {color: AX, width: 1}},
  axisTick: {show: true, length: 12, inside: false, lineStyle: {color: AX}}};

chart.setOption({
  animation: false,
  backgroundColor: '#fff',
  grid: {left: 72.7, right: 7, top: 19, bottom: 79.4, containLabel: false},
  xAxis: [
    Object.assign({}, xAxisBase, {position: 'bottom',
      axisLabel: {customValues: xTicks, formatter: v => String(v), fontFamily: FONT, fontSize: 15, color: '#1a1a1a', margin: 24},
      name: 'Chromosome Coordinates (bps/10{sup|5})', nameLocation: 'middle', nameGap: 56,
      nameTextStyle: {fontFamily: FONT, fontSize: 21.5, fontWeight: 'bold', color: '#111',
        rich: {sup: {fontFamily: FONT, fontSize: 13, fontWeight: 'bold', color: '#111', verticalAlign: 'top', padding: [0, 0, 10, 0]}}}}),
    Object.assign({}, xAxisBase, {position: 'top', axisLabel: {show: false}})
  ],
  yAxis: [
    Object.assign({}, yAxisBase, {position: 'left',
      axisLabel: {fontFamily: FONT, fontSize: 16, color: '#1a1a1a', margin: 16},
      name: 'M', nameLocation: 'middle', nameGap: 44,
      nameTextStyle: {fontFamily: FONT, fontSize: 20, fontWeight: 'bold', color: '#111'}}),
    Object.assign({}, yAxisBase, {position: 'right', axisLabel: {show: false}})
  ],
  legend: [
    {orient: 'vertical', left: 1083, top: 29, padding: 0, itemGap: 10, itemWidth: 45, itemHeight: 12, z: 20,
      selectedMode: false, textStyle: legendText,
      data: [{name: 'Positive Call', icon: starPath},
             {name: 'Loess', lineStyle: {width: 1}, itemStyle: hideSym},
             {name: 'Median', lineStyle: {width: 1}, itemStyle: hideSym},
             {name: 'Cutoff', lineStyle: {width: 1}, itemStyle: hideSym}]},
    {orient: 'vertical', left: 1098.5, top: 141, padding: 0, itemGap: 10, itemWidth: 45, itemHeight: 12, z: 20,
      selectedMode: false, textStyle: legendText,
      data: [{name: 'Confirmed ARS', icon: triPath}, {name: 'Predicted ARS', icon: triPath}]},
    {orient: 'vertical', left: 1103, top: 197, padding: 0, itemGap: 10, itemWidth: 45, itemHeight: 5, z: 20,
      selectedMode: false, textStyle: legendText,
      data: [{name: 'HMM Negative', icon: 'circle'}, {name: 'HMM Positive', icon: 'circle'}]}
  ],
  graphic: [{type: 'rect', z: 15, shape: {x: 1073, y: 20, width: 204, height: 227},
    style: {fill: '#fff', stroke: '#444', lineWidth: 1}}],
  series: [
    {name: 'HMM Negative', type: 'scatter', symbol: 'circle', symbolSize: 6, z: 2,
      itemStyle: {color: '#474747'}, data: expandColumns(hmmNegative), progressive: 0, silent: true},
    {name: 'HMM Positive', type: 'scatter', symbol: 'circle', symbolSize: 6, z: 2,
      itemStyle: {color: '#0c0cf0'}, data: expandColumns(hmmPositive), progressive: 0, silent: true},
    {name: 'zero', type: 'line', symbol: 'none', z: 3, silent: true,
      lineStyle: {color: '#000', width: 1}, data: [[xMin, 0], [xMax, 0]]},
    {name: 'Cutoff', type: 'line', symbol: 'none', z: 3, silent: true,
      lineStyle: {color: '#ff1010', width: 3, type: [2, 1.5]}, itemStyle: {color: '#ff1010'},
      data: [[xMin, cutoff], [xMax, cutoff]]},
    {name: 'Loess', type: 'line', symbol: 'none', z: 4, silent: true,
      lineStyle: {color: '#ff00ff', width: 2}, itemStyle: {color: '#ff00ff'}, data: loessLine},
    {name: 'Median', type: 'line', symbol: 'none', z: 5, silent: true,
      lineStyle: {color: '#12e612', width: 3}, itemStyle: {color: '#12e612'}, data: medianLine},
    {name: 'Positive Call', type: 'scatter', symbol: starPath, symbolSize: 12, z: 6,
      itemStyle: {color: '#ff0000'}, data: positiveCallX.map(x => [x, positiveCallY])},
    {name: 'Confirmed ARS', type: 'scatter', symbol: triPath, symbolSize: [14, 12], z: 6,
      itemStyle: {color: '#00f000'}, data: confirmedArsX.map(x => [x, arsY])},
    {name: 'Predicted ARS', type: 'scatter', symbol: triPath, symbolSize: [14, 12], z: 6,
      itemStyle: {color: '#ff0000'}, data: predictedArsX.map(x => [x, arsY])}
  ]
});
</script>
</body></html>
